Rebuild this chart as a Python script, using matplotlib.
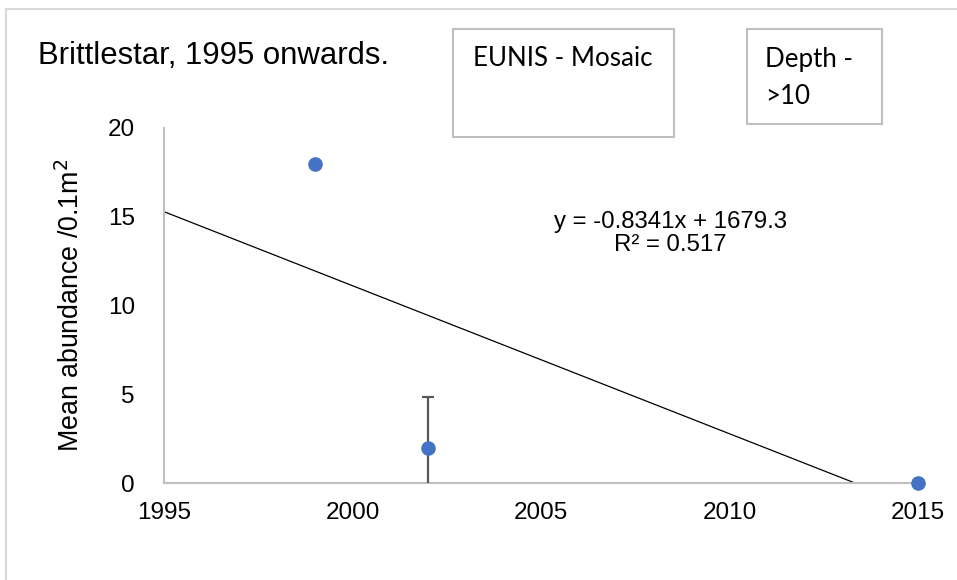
import numpy as np
import matplotlib
matplotlib.use("Agg")
import matplotlib.pyplot as plt
from matplotlib.patches import Rectangle
from matplotlib.lines import Line2D

plt.rcParams['font.family'] = ['Liberation Sans', 'DejaVu Sans']

# Data
years = [1999, 2002, 2015]
abundance = [18, 2, 0]
err = [0, 2.85, 0]
x_ticks = [1995, 2000, 2005, 2010, 2015]
y_ticks = [0, 5, 10, 15, 20]
title = "Brittlestar, 1995 onwards."
box1 = "EUNIS - Mosaic"
box2_lines = ["Depth -", ">10"]

W, H = 957, 580
fig = plt.figure(figsize=(W/100, H/100), dpi=100)

def fx(px): return px / W
def fy(py): return 1 - py / H

ax = fig.add_axes([fx(164), fy(483), fx(918) - fx(164), fy(128) - fy(483)])

# trendline (linear fit of the data)
slope, intercept = np.polyfit(years, abundance, 1)
r2 = np.corrcoef(years, abundance)[0, 1] ** 2
tx = np.array([x_ticks[0], x_ticks[-1]])
ax.plot(tx, slope * tx + intercept, color='black', lw=0.9, zorder=2)

ax.errorbar(years, abundance, yerr=err, fmt='none', ecolor='#595959',
            elinewidth=1.6, capsize=4, capthick=1.6, zorder=3)
ax.plot(years, abundance, 'o', color='#4472C4', markersize=10.5,
        markeredgewidth=0, clip_on=False, zorder=4)

ax.set_xlim(1995, 2015)
ax.set_ylim(0, 20)
ax.set_xticks(x_ticks)
ax.set_yticks(y_ticks)
ax.tick_params(length=0, labelsize=17.5, colors='#000000')
ax.tick_params(axis='x', pad=14)
ax.tick_params(axis='y', pad=21)
for s in ['top', 'right']:
    ax.spines[s].set_visible(False)
for s in ['left', 'bottom']:
    ax.spines[s].set_color('#BFBFBF')
    ax.spines[s].set_linewidth(1.5)

ax.set_ylabel(r'Mean abundance /0.1m$^2$', fontsize=19.3, labelpad=16)

fig.text(fx(670), fy(222), f"y = {slope:.4f}x + {intercept:.1f}", ha='center', va='center', fontsize=17.3)
fig.text(fx(670), fy(245), f"R² = {r2:.3f}", ha='center', va='center', fontsize=17.3)

fig.text(fx(38), fy(56), title, ha='left', va='center', fontsize=22.4)

# text boxes
box_font = ['Lato', 'DejaVu Sans']
fig.patches.append(Rectangle((fx(453), fy(137)), fx(674) - fx(453), fy(29) - fy(137),
                             transform=fig.transFigure, fill=False, ec='#BFBFBF', lw=1.5))
fig.text(fx(473), fy(59), box1, ha='left', va='center', fontsize=18.6, family=box_font)
fig.patches.append(Rectangle((fx(747), fy(124)), fx(882) - fx(747), fy(29) - fy(124),
                             transform=fig.transFigure, fill=False, ec='#BFBFBF', lw=1.5))
fig.text(fx(765), fy(59), box2_lines[0], ha='left', va='center', fontsize=18.6, family=box_font)
fig.text(fx(765), fy(96), box2_lines[1], ha='left', va='center', fontsize=18.6, family=box_font)

# outer chart frame
fig.lines.append(Line2D([fx(6), 1], [fy(9), fy(9)], transform=fig.transFigure, color='#D9D9D9', lw=1.5))
fig.lines.append(Line2D([fx(6), fx(6)], [fy(9), 0], transform=fig.transFigure, color='#D9D9D9', lw=1.5))

fig.savefig('out.png', dpi=100)
